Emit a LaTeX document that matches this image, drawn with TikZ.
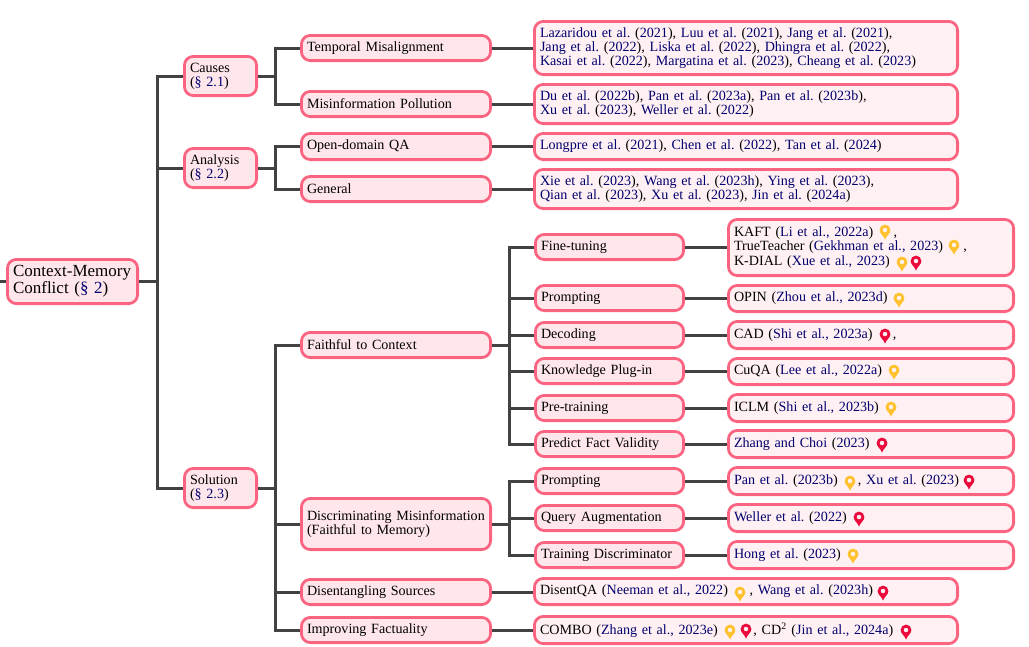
\documentclass[tikz,border=0pt]{standalone}
\usepackage{fontspec}
\setmainfont{Liberation Serif}
\definecolor{edgepink}{HTML}{FB6480}
\definecolor{boxfill}{HTML}{FEE6EA}
\definecolor{leaffill}{HTML}{FFF1F3}
\definecolor{linegray}{HTML}{424242}
\definecolor{citeblue}{HTML}{00006E}
\definecolor{pingold}{HTML}{FFC22E}
\definecolor{pinred}{HTML}{EB0A3C}
\newcommand{\au}[1]{\textcolor{citeblue}{#1}}
\newcommand{\gp}[1][15.5]{\hspace*{#1pt}}
\newcommand{\bx}[7]{%
  \pgfmathsetmacro{\bcx}{(#2+#4)/2}\pgfmathsetmacro{\bcy}{(#3+#5)/2}%
  \pgfmathsetmacro{\bwd}{#4-#2-2.8}\pgfmathsetmacro{\bht}{#5-#3-2.8}\pgfmathsetmacro{\btw}{#4-#2-14}%
  \node[#6,minimum width=\bwd pt,minimum height=\bht pt,text width=\btw pt] (#1) at (\bcx,\bcy) {#7};}
\newcommand{\pinmark}[3]{%
  \fill[#1,even odd rule] (#2,#3+9.5) .. controls (#2-1.5,#3+5.5) and (#2-5.4,#3+3.4) .. (#2-5.4,#3)
    arc (180:360:5.4) .. controls (#2+5.4,#3+3.4) and (#2+1.5,#3+5.5) .. (#2,#3+9.5) -- cycle
    (#2+2.4,#3) arc (0:360:2.4);}
\tikzset{
  base/.style={rectangle,rounded corners=9pt,draw=edgepink,line width=2.8pt,align=left,inner sep=0pt,
    font=\frenchspacing\fontsize{14.1pt}{14.3pt}\selectfont},
  rootbox/.style={base,fill=boxfill,font=\frenchspacing\fontsize{17pt}{17pt}\selectfont},
  midbox/.style={base,fill=boxfill},
  leafbox/.style={base,fill=leaffill},
  conn/.style={draw=linegray,line width=3pt}
}
\begin{document}
\begin{tikzpicture}[x=1pt,y=-1pt]
\useasboundingbox (0,0) rectangle (1029,646);
\coordinate (stub) at (0,281.5);
% nodes
\bx{root}{6}{258}{139}{305}{rootbox}{Context-Memory\\Conflict (\au{§ 2})}
\bx{causes}{183}{55}{258}{97}{midbox}{Causes\\(\au{§ 2.1})}
\bx{analysis}{183}{147}{258}{189}{midbox}{Analysis\\(\au{§ 2.2})}
\bx{solution}{183}{467}{258}{509}{midbox}{Solution\\(\au{§ 2.3})}
\bx{temporal}{300}{34}{492}{62}{midbox}{Temporal Misalignment}
\bx{misinfo}{300}{90}{492}{118}{midbox}{Misinformation Pollution}
\bx{open}{300}{132}{492}{161}{midbox}{Open-domain QA}
\bx{general}{300}{175}{492}{203}{midbox}{General}
\bx{faithful}{300}{331}{492}{359}{midbox}{Faithful to Context}
\bx{discrim}{300}{497}{492}{551}{midbox}{Discriminating Misinformation\\(Faithful to Memory)}
\bx{disent}{300}{578}{492}{606}{midbox}{Disentangling Sources}
\bx{improve}{300}{616}{492}{644}{midbox}{Improving Factuality}
\bx{lTemporal}{533}{20}{959}{76}{leafbox}{\au{Lazaridou et al.} (\au{2021}), \au{Luu et al.} (\au{2021}), \au{Jang et al.} (\au{2021}),\\\au{Jang et al.} (\au{2022}), \au{Liska et al.} (\au{2022}), \au{Dhingra et al.} (\au{2022}),\\\au{Kasai et al.} (\au{2022}), \au{Margatina et al.} (\au{2023}), \au{Cheang et al.} (\au{2023})}
\bx{lMisinfo}{533}{83}{959}{125}{leafbox}{\au{Du et al.} (\au{2022b}), \au{Pan et al.} (\au{2023a}), \au{Pan et al.} (\au{2023b}),\\\au{Xu et al.} (\au{2023}), \au{Weller et al.} (\au{2022})}
\bx{lOpen}{533}{132}{959}{161}{leafbox}{\au{Longpre et al.} (\au{2021}), \au{Chen et al.} (\au{2022}), \au{Tan et al.} (\au{2024})}
\bx{lGeneral}{533}{168}{959}{210}{leafbox}{\au{Xie et al.} (\au{2023}), \au{Wang et al.} (\au{2023h}), \au{Ying et al.} (\au{2023}),\\\au{Qian et al.} (\au{2023}), \au{Xu et al.} (\au{2023}), \au{Jin et al.} (\au{2024a})}
\bx{fine}{534}{233}{685}{261}{midbox}{Fine-tuning}
\bx{prompt}{534}{284}{685}{312}{midbox}{Prompting}
\bx{decode}{534}{321}{685}{349}{midbox}{Decoding}
\bx{plugin}{534}{357}{685}{385}{midbox}{Knowledge Plug-in}
\bx{pretrain}{534}{394}{685}{422}{midbox}{Pre-training}
\bx{predict}{534}{430}{685}{458}{midbox}{Predict Fact Validity}
\bx{promptb}{534}{467}{685}{495}{midbox}{Prompting}
\bx{query}{534}{504}{685}{532}{midbox}{Query Augmentation}
\bx{train}{534}{541}{685}{569}{midbox}{Training Discriminator}
\bx{lFine}{727}{218}{1015}{277}{leafbox}{KAFT (\au{Li et al., 2022a}) \gp,\\TrueTeacher (\au{Gekhman et al., 2023}) \gp,\\K-DIAL (\au{Xue et al., 2023})}
\bx{lPrompt}{727}{284}{1015}{313}{leafbox}{OPIN (\au{Zhou et al., 2023d})}
\bx{lDecode}{727}{320}{1015}{350}{leafbox}{CAD (\au{Shi et al., 2023a}) \gp,}
\bx{lPlugin}{727}{357}{1015}{386}{leafbox}{CuQA (\au{Lee et al., 2022a})}
\bx{lPretrain}{727}{393}{1015}{423}{leafbox}{ICLM (\au{Shi et al., 2023b})}
\bx{lPredict}{727}{429}{1015}{459}{leafbox}{\au{Zhang and Choi} (\au{2023})}
\bx{lPromptb}{727}{466}{1015}{496}{leafbox}{\au{Pan et al.} (\au{2023b}) \gp, \au{Xu et al.} (\au{2023})}
\bx{lQuery}{727}{503}{1015}{533}{leafbox}{\au{Weller et al.} (\au{2022})}
\bx{lTrain}{727}{540}{1015}{570}{leafbox}{\au{Hong et al.} (\au{2023})}
\bx{lDisent}{533}{577}{959}{606}{leafbox}{DisentQA (\au{Neeman et al., 2022}) \gp[17], \au{Wang et al.} (\au{2023h})}
\bx{lImprove}{533}{615}{959}{645}{leafbox}{COMBO (\au{Zhang et al., 2023e}) \gp[31], CD\textsuperscript{2} (\au{Jin et al., 2024a})}
% connectors
\draw[conn] (stub) -- (root.west);
\draw[conn] (root.east) -- ++(18,0) |- (causes.west);
\draw[conn] (root.east) -- ++(18,0) |- (analysis.west);
\draw[conn] (root.east) -- ++(18,0) |- (solution.west);
\draw[conn] (causes.east) -- ++(17,0) |- (temporal.west);
\draw[conn] (causes.east) -- ++(17,0) |- (misinfo.west);
\draw[conn] (analysis.east) -- ++(17,0) |- (open.west);
\draw[conn] (analysis.east) -- ++(17,0) |- (general.west);
\draw[conn] (solution.east) -- ++(17,0) |- (faithful.west);
\draw[conn] (solution.east) -- ++(17,0) |- (discrim.west);
\draw[conn] (solution.east) -- ++(17,0) |- (disent.west);
\draw[conn] (solution.east) -- ++(17,0) |- (improve.west);
\draw[conn] (temporal.east) -- (temporal.east -| lTemporal.west);
\draw[conn] (misinfo.east) -- (misinfo.east -| lMisinfo.west);
\draw[conn] (open.east) -- (open.east -| lOpen.west);
\draw[conn] (general.east) -- (general.east -| lGeneral.west);
\draw[conn] (disent.east) -- (disent.east -| lDisent.west);
\draw[conn] (improve.east) -- (improve.east -| lImprove.west);
\foreach \t in {fine,prompt,decode,plugin,pretrain,predict}
  \draw[conn] (faithful.east) -- ++(17,0) |- (\t.west);
\foreach \t in {promptb,query,train}
  \draw[conn] (discrim.east) -- ++(17,0) |- (\t.west);
\draw[conn] (fine.east) -- (fine.east -| lFine.west);
\draw[conn] (prompt.east) -- (prompt.east -| lPrompt.west);
\draw[conn] (decode.east) -- (decode.east -| lDecode.west);
\draw[conn] (plugin.east) -- (plugin.east -| lPlugin.west);
\draw[conn] (pretrain.east) -- (pretrain.east -| lPretrain.west);
\draw[conn] (predict.east) -- (predict.east -| lPredict.west);
\draw[conn] (promptb.east) -- (promptb.east -| lPromptb.west);
\draw[conn] (query.east) -- (query.east -| lQuery.west);
\draw[conn] (train.east) -- (train.east -| lTrain.west);
% pins
\pinmark{pingold}{885}{230}
\pinmark{pingold}{954}{245}
\pinmark{pingold}{902}{262}
\pinmark{pinred}{916}{261}
\pinmark{pingold}{899}{298}
\pinmark{pinred}{885}{334}
\pinmark{pingold}{894}{370}
\pinmark{pingold}{891}{407}
\pinmark{pinred}{882}{443}
\pinmark{pingold}{850}{481}
\pinmark{pinred}{969}{480}
\pinmark{pinred}{859}{517}
\pinmark{pingold}{853}{554}
\pinmark{pingold}{740}{592}
\pinmark{pinred}{883}{591}
\pinmark{pingold}{730}{630}
\pinmark{pinred}{746}{629}
\pinmark{pinred}{906}{630}
\end{tikzpicture}
\end{document}
